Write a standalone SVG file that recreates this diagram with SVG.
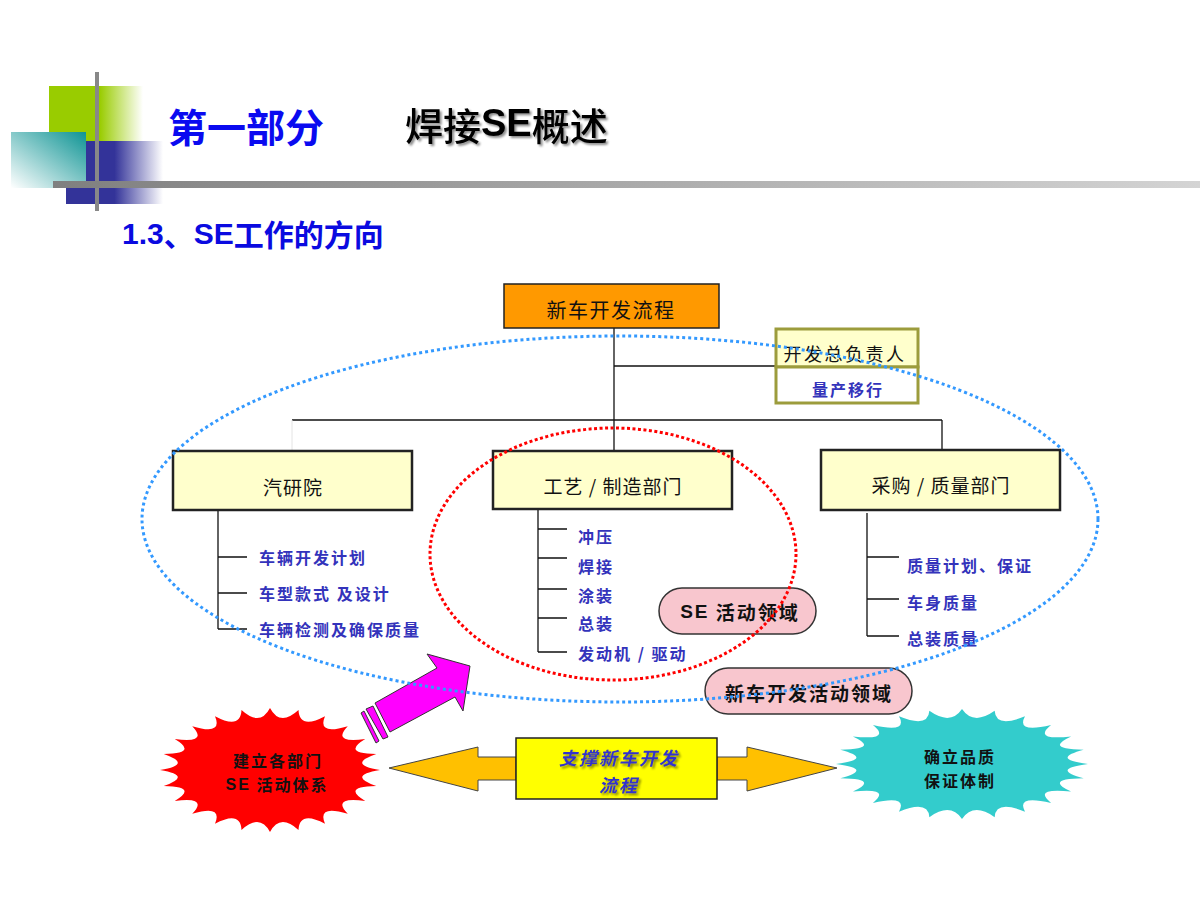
<svg xmlns="http://www.w3.org/2000/svg" width="1200" height="900" viewBox="0 0 1200 900">
<defs>
<linearGradient id="gGreen" x1="0" y1="0" x2="1" y2="0"><stop offset="0" stop-color="#99CC00"/><stop offset="0.54" stop-color="#99CC00"/><stop offset="1" stop-color="#99CC00" stop-opacity="0"/></linearGradient>
<linearGradient id="gBlue" x1="0" y1="0" x2="1" y2="0"><stop offset="0" stop-color="#333399"/><stop offset="0.5" stop-color="#333399"/><stop offset="1" stop-color="#333399" stop-opacity="0"/></linearGradient>
<linearGradient id="gTeal" x1="1" y1="0" x2="0" y2="1"><stop offset="0" stop-color="#0E9494"/><stop offset="1" stop-color="#FFFFFF"/></linearGradient>
<linearGradient id="gBar" x1="0" y1="0" x2="1" y2="0"><stop offset="0" stop-color="#7F7F7F"/><stop offset="1" stop-color="#D4D4D4"/></linearGradient>
<filter id="shadow" x="-10%" y="-20%" width="130%" height="150%"><feDropShadow dx="2" dy="2" stdDeviation="0.8" flood-color="#000" flood-opacity="0.45"/></filter>
<path id="burst" d="M1,0 Q.694,.091 .966,.259 Q.647,.268 .866,.5 Q.555,.426 .707,.707 Q.426,.555 .5,.866 Q.268,.647 .259,.966 Q.091,.694 0,1 Q-.091,.694 -.259,.966 Q-.268,.647 -.5,.866 Q-.426,.555 -.707,.707 Q-.555,.426 -.866,.5 Q-.647,.268 -.966,.259 Q-.694,.091 -1,0 Q-.694,-.091 -.966,-.259 Q-.647,-.268 -.866,-.5 Q-.555,-.426 -.707,-.707 Q-.426,-.555 -.5,-.866 Q-.268,-.647 -.259,-.966 Q-.091,-.694 0,-1 Q.091,-.694 .259,-.966 Q.268,-.647 .5,-.866 Q.426,-.555 .707,-.707 Q.555,-.426 .866,-.5 Q.647,-.268 .966,-.259 Q.694,-.091 1,0Z"/>
</defs>
<style>
text{font-family:"Noto Sans CJK SC","Liberation Sans",sans-serif;dominant-baseline:central}
.lat{font-family:"Liberation Sans","Noto Sans CJK SC",sans-serif}
.dept{fill:#FFFFCC;stroke:#222;stroke-width:2.5}
.dtxt{font-size:19px;letter-spacing:1px;fill:#111;text-anchor:middle}
.sub{font-size:16px;letter-spacing:2px;font-weight:bold;fill:#3333BB}
.ln{stroke:#111;stroke-width:1.3;fill:none}
.pill{fill:#F8C6CE;stroke:#333;stroke-width:1.5}
.ptxt{font-size:19px;font-weight:bold;letter-spacing:2px;fill:#111;text-anchor:middle}
.gold{fill:#FFC000;stroke:#444;stroke-width:1}
.mag{fill:#FF00FF;stroke:#333;stroke-width:1}
.btxt{font-size:16px;font-weight:bold;letter-spacing:2px;fill:#111;text-anchor:middle}
.ytxt{font-size:18px;font-weight:bold;font-style:italic;letter-spacing:2px;fill:#3333CC;text-anchor:middle}
</style>

<!-- header decoration -->
<g id="header">
<rect x="49" y="86" width="94" height="55" fill="url(#gGreen)"/>
<rect x="66" y="141" width="97" height="63" fill="url(#gBlue)"/>
<rect x="11" y="132" width="75" height="56" fill="url(#gTeal)"/>
<rect x="95" y="72" width="4" height="139" fill="#888"/>
<rect x="53" y="181" width="1147" height="7" fill="url(#gBar)"/>
<text x="168" y="125" font-size="39" font-weight="bold" fill="#0A0AF0">第一部分</text>
<text x="405" y="123" font-size="38" font-weight="500" fill="#000" filter="url(#shadow)">焊接<tspan class="lat" font-weight="bold">SE</tspan>概述</text>
<text x="122" y="233" font-size="30" font-weight="bold" fill="#0A0AE0"><tspan class="lat">1.3</tspan>、<tspan class="lat">SE</tspan>工作的方向</text>
</g>

<!-- connectors -->
<g id="connectors">
<line class="ln" x1="614" y1="328" x2="614" y2="451"/>
<line class="ln" x1="614" y1="366" x2="776" y2="366"/>
<line class="ln" x1="292" y1="420" x2="942" y2="420"/>
<line x1="292" y1="420" x2="292" y2="451" stroke="#E4E4E4" stroke-width="1"/>
<line class="ln" x1="942" y1="420" x2="942" y2="450"/>
<path class="ln" d="M218,511 V629 M218,557 H247 M218,593 H247 M218,629 H247"/>
<path class="ln" d="M538,510 V652 M538,529 H567 M538,558 H567 M538,589 H567 M538,618 H567 M538,652 H567"/>
<path class="ln" d="M867,513 V636 M867,557 H899 M867,599 H899 M867,636 H899"/>
</g>

<g id="n-top">
<rect x="504" y="284" width="215" height="44" fill="#FF9900" stroke="#222" stroke-width="1.5"/>
<text x="611" y="309" font-size="20" letter-spacing="1.5" text-anchor="middle" fill="#111">新车开发流程</text>
</g>

<g id="n-leader">
<rect x="776" y="329" width="142" height="38" fill="#FFFFCC" stroke="#9C9C3C" stroke-width="3"/>
<rect x="776" y="367" width="142" height="36" fill="#FFFFFF" stroke="#9C9C3C" stroke-width="3"/>
<text x="845" y="353" font-size="18" letter-spacing="2.5" text-anchor="middle" fill="#111">开发总负责人</text>
<text x="848" y="389" font-size="16" letter-spacing="2" font-weight="bold" text-anchor="middle" fill="#3333BB">量产移行</text>
</g>

<g id="n-rd">
<rect class="dept" x="173" y="451" width="239" height="59"/>
<text class="dtxt" x="293" y="486">汽研院</text>
<text class="sub" x="259" y="557">车辆开发计划</text>
<text class="sub" x="259" y="593">车型款式 及设计</text>
<text class="sub" x="259" y="629">车辆检测及确保质量</text>
</g>

<g id="n-mfg">
<rect class="dept" x="493" y="451" width="239" height="58"/>
<text class="dtxt" x="613" y="485">工艺 / 制造部门</text>
<text class="sub" x="578" y="536">冲压</text>
<text class="sub" x="578" y="566">焊接</text>
<text class="sub" x="578" y="595">涂装</text>
<text class="sub" x="578" y="623">总装</text>
<text class="sub" x="578" y="653">发动机 / 驱动</text>
</g>

<g id="n-qa">
<rect class="dept" x="821" y="450" width="239" height="60"/>
<text class="dtxt" x="941" y="484">采购 / 质量部门</text>
<text class="sub" x="907" y="565">质量计划、保证</text>
<text class="sub" x="907" y="602">车身质量</text>
<text class="sub" x="907" y="638">总装质量</text>
</g>

<g id="n-se">
<rect class="pill" x="659" y="588" width="157" height="46" rx="23"/>
<text class="ptxt" x="740" y="611"><tspan class="lat">SE</tspan> 活动领域</text>
</g>

<g id="n-newcar">
<rect class="pill" x="705" y="668" width="207" height="46" rx="23"/>
<text class="ptxt" x="809" y="692">新车开发活动领域</text>
</g>

<g id="n-arrow">
<polygon class="mag" points="427,654 470,666 463,711 455,697 390,732 375,703 437,668"/>
<polygon class="mag" points="361,713 364,711 379,741 376,743"/>
<polygon class="mag" points="366,709 373,706 388,737 383,739"/>
</g>

<g id="n-red">
<use href="#burst" transform="translate(270,770) scale(110,62)" fill="#FF0000"/>
<text class="btxt" x="278" y="760">建立各部门</text>
<text class="btxt" x="277" y="784"><tspan class="lat">SE</tspan> 活动体系</text>
</g>

<g id="n-cyan">
<use href="#burst" transform="translate(962,764) scale(126,55)" fill="#33CCCC"/>
<text class="btxt" x="960" y="756">确立品质</text>
<text class="btxt" x="960" y="780">保证体制</text>
</g>

<g id="n-support">
<polygon class="gold" points="389,768 478,747 478,757 516,757 516,780 478,780 478,791"/>
<polygon class="gold" points="717,757 747,757 747,747 837,768 747,791 747,780 717,780"/>
<rect x="516" y="738" width="201" height="61" fill="#FFFF00" stroke="#222" stroke-width="1.5"/>
<text class="ytxt" x="619" y="757" filter="url(#shadow)">支撑新车开发</text>
<text class="ytxt" x="619" y="784" filter="url(#shadow)">流程</text>
</g>

<g id="regions">
<ellipse cx="620" cy="519" rx="478" ry="183" fill="none" stroke="#3399FF" stroke-width="3" stroke-dasharray="3 3"/>
<ellipse cx="613" cy="554" rx="183" ry="126" fill="none" stroke="#FF0000" stroke-width="3" stroke-dasharray="3 2.5"/>
</g>
</svg>
